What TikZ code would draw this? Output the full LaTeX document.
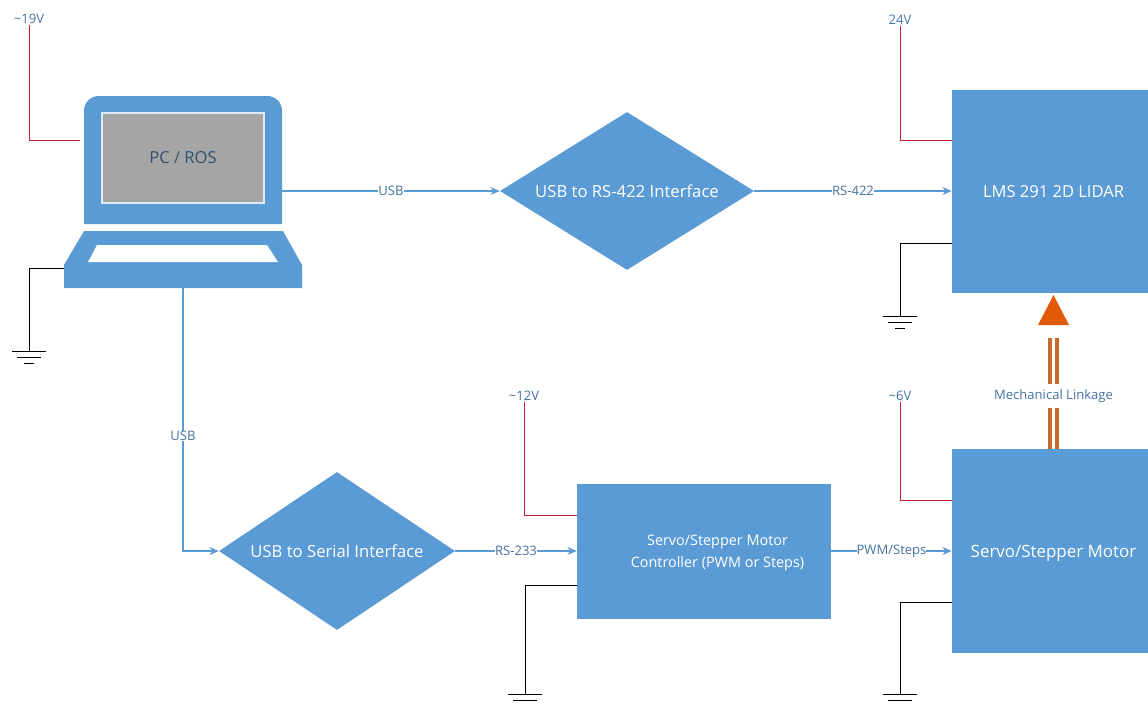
\documentclass[tikz,border=0pt]{standalone}
\usepackage{fontspec}
\setmainfont{Open Sans}
\usetikzlibrary{positioning,shapes.geometric,arrows.meta}
\definecolor{boxblue}{HTML}{5B9BD5}
\definecolor{labelblue}{HTML}{44729F}
\definecolor{screengray}{HTML}{A5A5A5}
\definecolor{linkorange}{HTML}{C9692B}
\definecolor{tiporange}{HTML}{E25A06}
\definecolor{powerred}{HTML}{C4202C}
\tikzset{
  block/.style={fill=boxblue, text=white, inner sep=0pt, text depth=0pt, font=\fontsize{12.4}{17}\selectfont, align=center},
  iface/.style={diamond, aspect=1.6, fill=boxblue, text=white, inner sep=0pt, font=\fontsize{12.5}{15}\selectfont},
  tag/.style={fill=white, text=labelblue, inner sep=0pt, font=\fontsize{9.8}{11}\selectfont},
  volt/.style={text=labelblue, inner sep=1pt, font=\fontsize{9.8}{11}\selectfont},
  bus/.style={draw=boxblue, line width=0.8pt, -{Stealth[length=7pt,width=6pt]}},
  power/.style={draw=powerred, line width=0.75pt},
  earth/.style={draw=black, line width=0.7pt},
  linkage/.style={draw=linkorange, line width=3.2pt, double=white, double distance=1.6pt},
  gnd/.pic={
    \draw [earth] (-17,0) -- (17,0);
    \draw [earth] (-12,6) -- (12,6);
    \draw [earth] (-5,12) -- (5,12);
  }
}
\begin{document}
\begin{tikzpicture}[x=0.75pt,y=-0.75pt]
  \useasboundingbox (0,0) rectangle (1148,704);
  % laptop
  \fill [boxblue] (84,224) [rounded corners=11pt] -- (84,96) -- (282,96) [sharp corners] -- (282,224) -- cycle;
  \node [minimum width=148.5pt, minimum height=96pt, inner sep=0pt] (lid) at (183,160) {};
  \node [draw=white!80!boxblue, line width=0.8pt, fill=screengray, text=labelblue!70!black, minimum width=121.5pt,
    minimum height=67.5pt, inner sep=0pt, font=\fontsize{12.4}{14}\selectfont] (pc) at (183,158) {PC / ROS};
  \fill [boxblue] (84,231) -- (283,231) -- (302,265) -- (302,288) -- (64,288) -- (64,265) -- cycle;
  \fill [white] (97,245) -- (267,245) -- (278,262) -- (88,262) -- cycle;
  \node [minimum width=178.5pt, minimum height=17.25pt, inner sep=0pt] (base) at (183,276.5) {};

  % blocks
  \node [iface, minimum width=190.5pt, minimum height=118.5pt] (rs422) at (627,191) {USB to RS-422 Interface};
  \node [iface, minimum width=177pt, minimum height=118.5pt] (serial) at (337,551) {USB to Serial Interface};
  \node [block, minimum width=152.25pt, minimum height=152.25pt] (lidar) at (1053.5,191.5) {LMS 291 2D LIDAR};
  \node [block, minimum width=190.5pt, minimum height=101.25pt] (ctrl) at (704,551.5) {};
  \node [text=white, inner sep=0pt, align=center, font=\fontsize{10.8}{17}\selectfont] (ctrltext) at (717.5,553) {Servo/Stepper Motor\\Controller (PWM or Steps)};
  \node [block, minimum width=152.25pt, minimum height=153pt, font=\fontsize{12.7}{17}\selectfont] (motor) at (1053.5,551) {Servo/Stepper Motor};

  % signals
  \draw [bus] (lid.east |- rs422) -- node [tag, pos=0.5] {USB} (rs422);
  \draw [bus] (rs422) -- node [tag, pos=0.5] {RS-422} (lidar.west |- rs422);
  \draw [bus] (base.south) |- (serial);
  \node [tag] (usbtag) at (183,436) {USB};
  \draw [bus] (serial) -- node [tag] {RS-233} (ctrl.west |- serial);
  \draw [bus] (ctrl.east |- serial) -- node [tag] {PWM/Steps} (motor.west |- serial);

  % supply
  \node [volt] (v19) at (29,19) {\textasciitilde 19V};
  \node [volt] (v24) at (900,20) {24V};
  \node [volt] (v12) at (524,396) {\textasciitilde 12V};
  \node [volt] (v6) at (900,396) {\textasciitilde 6V};
  \coordinate (lidtap) at (80,140);
  \draw [power] (v19.south) |- (lidtap);
  \draw [power] (v24.south) |- (lidar.west |- 0,140);
  \draw [power] (v12.south) |- (ctrl.west |- 0,515);
  \draw [power] (v6.south) |- (motor.west |- 0,500);

  % ground
  \coordinate (g1) at (29,351);
  \coordinate (g2) at (900,316);
  \coordinate (g3) at (525,694);
  \coordinate (g4) at (900,694);
  \draw [earth] (base.west |- 0,268) -| (g1);
  \draw [earth] (lidar.west |- 0,243) -| (g2);
  \draw [earth] (ctrl.west |- 0,585) -| (g3);
  \draw [earth] (motor.west |- 0,602) -| (g4);
  \path (g1) pic {gnd} (g2) pic {gnd} (g3) pic {gnd} (g4) pic {gnd};

  % mechanical link
  \node [text=labelblue, inner sep=0pt, minimum height=18pt, font=\fontsize{9.8}{11}\selectfont] (mech) at (1053.5,396) {Mechanical Linkage};
  \coordinate (linktop) at (1053.5,338);
  \draw [linkage] (motor.north) -- (mech.south);
  \draw [linkage] (mech.north) -- (linktop);
  \fill [tiporange] (1053.5,295) -- (1069,325) -- (1038,325) -- cycle;
\end{tikzpicture}
\end{document}
